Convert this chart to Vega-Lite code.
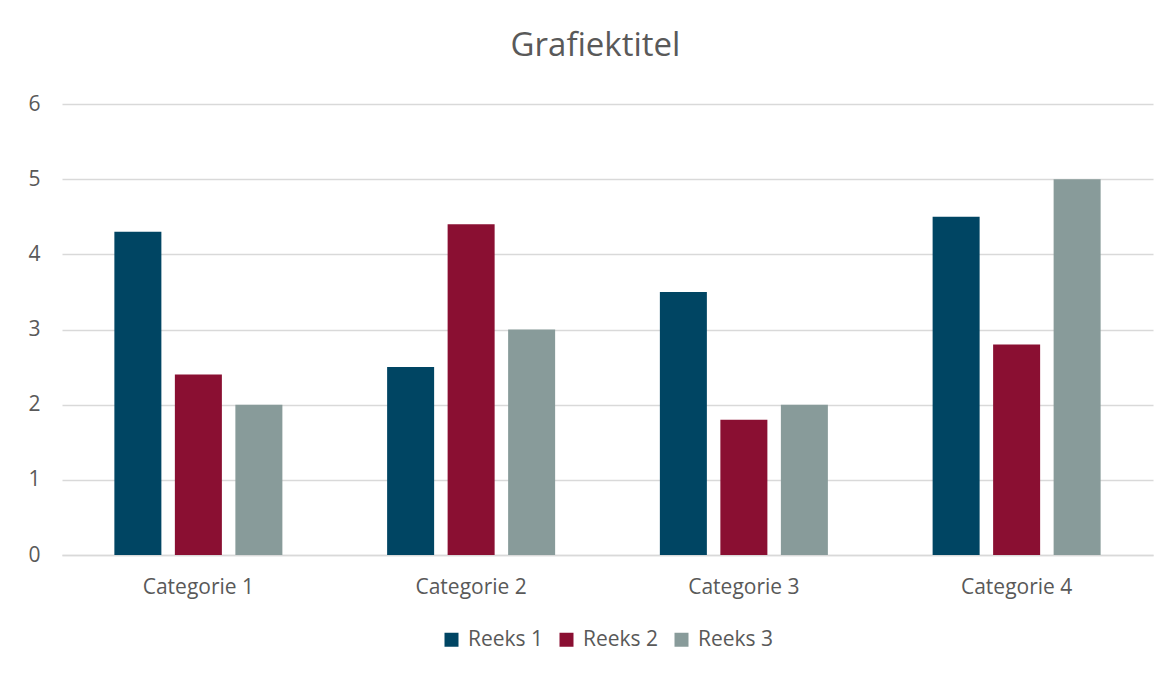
{
  "$schema": "https://vega.github.io/schema/vega-lite/v6.json",
  "width": 1091,
  "height": 451,
  "autosize": {"type": "none"},
  "padding": {"left": 62, "top": 104, "right": 20, "bottom": 120},
  "background": "white",
  "title": {
    "text": "Grafiektitel",
    "anchor": "middle",
    "fontSize": 33,
    "font": "Open Sans",
    "fontWeight": "normal",
    "color": "#595959",
    "offset": 30,
    "dx": -12
  },
  "data": {
    "values": [
      {"categorie": "Categorie 1", "reeks": "Reeks 1", "waarde": 4.3},
      {"categorie": "Categorie 1", "reeks": "Reeks 2", "waarde": 2.4},
      {"categorie": "Categorie 1", "reeks": "Reeks 3", "waarde": 2},
      {"categorie": "Categorie 2", "reeks": "Reeks 1", "waarde": 2.5},
      {"categorie": "Categorie 2", "reeks": "Reeks 2", "waarde": 4.4},
      {"categorie": "Categorie 2", "reeks": "Reeks 3", "waarde": 3},
      {"categorie": "Categorie 3", "reeks": "Reeks 1", "waarde": 3.5},
      {"categorie": "Categorie 3", "reeks": "Reeks 2", "waarde": 1.8},
      {"categorie": "Categorie 3", "reeks": "Reeks 3", "waarde": 2},
      {"categorie": "Categorie 4", "reeks": "Reeks 1", "waarde": 4.5},
      {"categorie": "Categorie 4", "reeks": "Reeks 2", "waarde": 2.8},
      {"categorie": "Categorie 4", "reeks": "Reeks 3", "waarde": 5}
    ]
  },
  "mark": {"type": "bar"},
  "encoding": {
    "x": {
      "field": "categorie",
      "type": "nominal",
      "scale": {"paddingInner": 0.384, "paddingOuter": 0.192},
      "axis": {
        "title": null,
        "labelAngle": 0,
        "ticks": false,
        "domain": true,
        "domainColor": "#d9d9d9",
        "domainWidth": 1.5,
        "labelFontSize": 21,
        "labelFont": "Open Sans",
        "labelColor": "#595959",
        "labelPadding": 21
      }
    },
    "xOffset": {
      "field": "reeks",
      "type": "nominal",
      "scale": {"paddingInner": 0.223, "paddingOuter": 0}
    },
    "y": {
      "field": "waarde",
      "type": "quantitative",
      "scale": {"domain": [0, 6]},
      "axis": {
        "title": null,
        "values": [0, 1, 2, 3, 4, 5, 6],
        "labelOverlap": false,
        "ticks": false,
        "domain": false,
        "grid": true,
        "gridColor": "#d9d9d9",
        "gridWidth": 1.5,
        "labelFontSize": 21,
        "labelFont": "Open Sans",
        "labelColor": "#595959",
        "labelPadding": 22
      }
    },
    "color": {
      "field": "reeks",
      "type": "nominal",
      "scale": {
        "domain": ["Reeks 1", "Reeks 2", "Reeks 3"],
        "range": ["#004563", "#8A0F32", "#889B9A"]
      },
      "legend": {
        "title": null,
        "orient": "bottom",
        "direction": "horizontal",
        "symbolType": "square",
        "symbolSize": 196,
        "symbolStrokeWidth": 0,
        "labelFontSize": 21,
        "labelFont": "Open Sans",
        "labelColor": "#595959",
        "labelOffset": 6,
        "columnPadding": 12,
        "offset": 32
      }
    }
  },
  "config": {
    "view": {"stroke": null},
    "legend": {"layout": {"bottom": {"anchor": "middle"}}}
  }
}
